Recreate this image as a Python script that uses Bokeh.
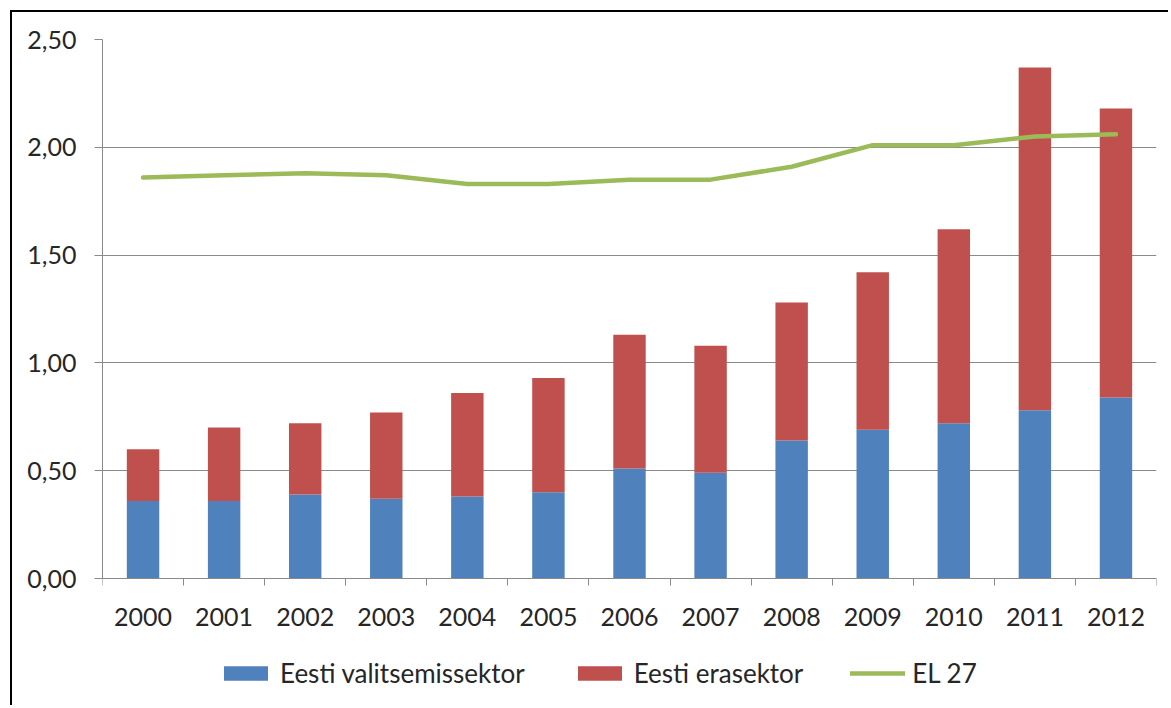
from bokeh.plotting import figure
from bokeh.models import (Range1d, FixedTicker, CustomJSTickFormatter, Legend, LegendItem,
                          ColumnDataSource)
from bokeh.embed import file_html
from bokeh.resources import INLINE

# ---- data ----
years = ["2000", "2001", "2002", "2003", "2004", "2005", "2006",
         "2007", "2008", "2009", "2010", "2011", "2012"]
valitsemissektor = [0.36, 0.36, 0.39, 0.37, 0.38, 0.40, 0.51, 0.49, 0.64, 0.69, 0.72, 0.78, 0.84]
erasektor = [0.24, 0.34, 0.33, 0.40, 0.48, 0.53, 0.62, 0.59, 0.64, 0.73, 0.90, 1.59, 1.34]
el27 = [1.86, 1.87, 1.88, 1.87, 1.83, 1.83, 1.85, 1.85, 1.91, 2.01, 2.01, 2.05, 2.06]
y_ticks = [0.0, 0.5, 1.0, 1.5, 2.0, 2.5]
series_names = ["Eesti valitsemissektor", "Eesti erasektor", "EL 27"]

BLUE = "#4F81BD"
RED = "#C0504D"
GREEN = "#9BBB59"
GREY = "#8A8A8A"
TEXT = "#262626"
FONT = "Lato"
FSIZE = "25px"

# layout (pixels): the frame also holds the area under the value axis, where the
# category labels and the legend sit, so that nothing is clipped
W, H = 1158, 695
TOP, BOTTOM, LEFT, RIGHT = 27, 5, 90, 14
AXIS_PX = 539                       # pixel height of the 0 .. 2.5 value span
y_max = y_ticks[-1]
y_min = y_max - y_max * (H - TOP - BOTTOM) / AXIS_PX

n = len(years)
centers = [i + 0.5 for i in range(n)]          # category slot centres
edges = list(range(n + 1))                      # category slot boundaries

source = ColumnDataSource(dict(x=centers, years=years, valitsemissektor=valitsemissektor,
                               erasektor=erasektor, el27=el27))

p = figure(width=W, height=H,
           x_range=Range1d(0, n), y_range=Range1d(y_min, y_max),
           output_backend="svg", toolbar_location=None,
           min_border_left=LEFT, min_border_right=RIGHT,
           min_border_top=TOP, min_border_bottom=BOTTOM)
p.outline_line_color = None
p.background_fill_color = "white"
p.border_fill_color = "white"
# chart-area frame (top and left edges visible, as in the reference)
p.styles = {"margin-left": "10px", "margin-top": "10px",
            "border-left": "2px solid #000000", "border-top": "2px solid #000000"}

# bars
bars = p.vbar_stack(["valitsemissektor", "erasektor"], x="x", width=0.4,
                    color=[BLUE, RED], line_color=None, source=source)
# EU line
ln = p.line(x="x", y="el27", source=source, line_color=GREEN, line_width=4.5,
            line_join="round", line_cap="round")

# y axis
yax = p.yaxis[0]
yax.ticker = FixedTicker(ticks=y_ticks)
yax.bounds = (y_ticks[0], y_ticks[-1])
yax.formatter = CustomJSTickFormatter(code="return tick.toFixed(2).replace('.', ',');")
yax.major_tick_out = 8
yax.major_tick_in = 0
yax.minor_tick_line_color = None
yax.axis_line_color = GREY
yax.major_tick_line_color = GREY
yax.major_label_text_font = FONT
yax.major_label_text_font_size = FSIZE
yax.major_label_text_color = TEXT
yax.major_label_standoff = 18

p.ygrid.ticker = FixedTicker(ticks=y_ticks)
p.ygrid.grid_line_color = GREY
p.ygrid.grid_line_width = 1
p.xgrid.grid_line_color = None

# x axis drawn at value 0: labels at slot centres, tick marks at slot boundaries
xax = p.xaxis[0]
xax.fixed_location = 0
xax.ticker = FixedTicker(ticks=centers, minor_ticks=edges)
xax.formatter = CustomJSTickFormatter(args=dict(labels=years),
                                      code="return labels[Math.floor(tick)];")
xax.major_tick_out = 0
xax.major_tick_in = 0
xax.major_tick_line_color = None
xax.minor_tick_out = 7
xax.minor_tick_in = 0
xax.minor_tick_line_color = GREY
xax.axis_line_color = GREY
xax.major_label_text_font = FONT
xax.major_label_text_font_size = FSIZE
xax.major_label_text_color = TEXT
xax.major_label_standoff = 22

# legend (bottom of the frame, under the category labels)
legend = Legend(items=[LegendItem(label=series_names[0], renderers=[bars[0]]),
                       LegendItem(label=series_names[1], renderers=[bars[1]]),
                       LegendItem(label=series_names[2], renderers=[ln])],
                orientation="horizontal", location=(116, 13),
                border_line_color=None, background_fill_alpha=0,
                padding=0, margin=0, spacing=47, label_standoff=7,
                glyph_width=55, glyph_height=18,
                label_text_font=FONT, label_text_font_size="26px", label_text_color=TEXT)
p.add_layout(legend)

open("out.html", "w").write(file_html(p, INLINE))
